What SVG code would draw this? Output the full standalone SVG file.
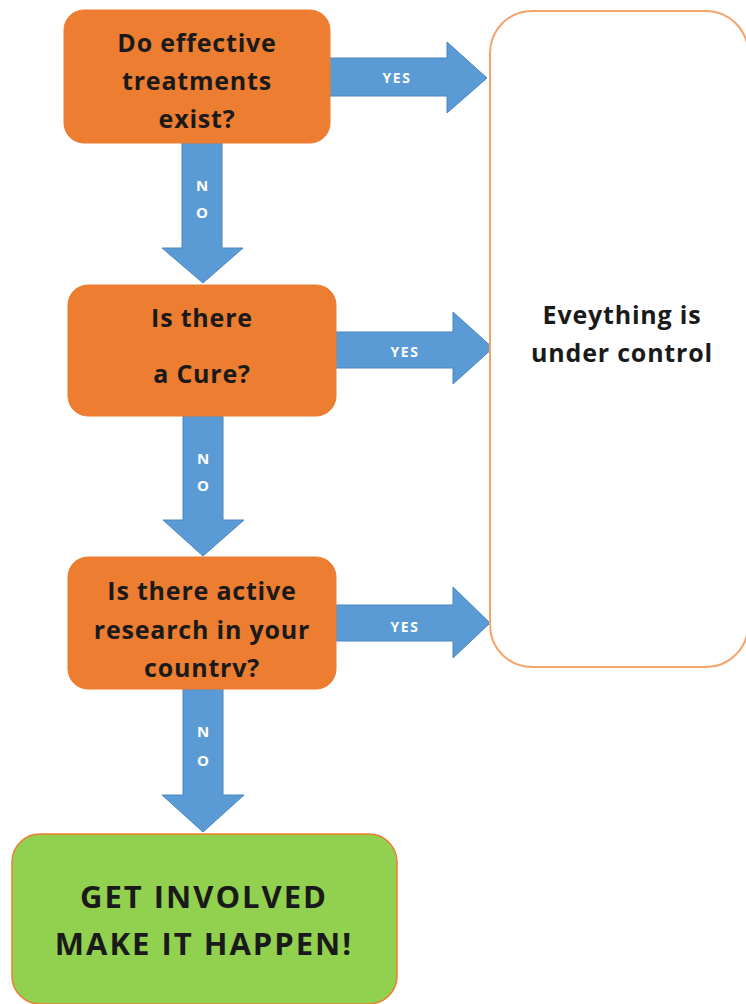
<svg xmlns="http://www.w3.org/2000/svg" width="746" height="1004" viewBox="0 0 746 1004">
<style>
.q{fill:#ED7D31;stroke:#ED7D31;stroke-width:1}
.t{font-family:"Open Sans","Liberation Sans",sans-serif;font-weight:bold;font-size:25px;letter-spacing:0.8px;fill:#1a1a1a;text-anchor:middle}
.g{font-size:31px;letter-spacing:2px}
.ar{fill:#5B9BD5;stroke:#4A86BF;stroke-width:1}
.lb{font-family:"Open Sans","Liberation Sans",sans-serif;font-weight:bold;font-size:14px;letter-spacing:1.5px;fill:#fff;text-anchor:middle}
.nl{font-size:15px;letter-spacing:0}
</style>
<rect width="746" height="1004" fill="#fff"/>
<g id="connectors">
<path class="ar" d="M326,58 H447 V42 L487,78 L447,113 V96 H326 Z"/>
<text class="lb" x="397" y="83">YES</text>
<path class="ar" d="M333,332 H453 V312 L493,348 L453,384 V368 H333 Z"/>
<text class="lb" x="405" y="357">YES</text>
<path class="ar" d="M333,605 H453 V587 L490,623 L453,658 V641 H333 Z"/>
<text class="lb" x="405" y="632">YES</text>
<path class="ar" d="M182,143 H222 V248 H243 L203,283 L162,248 H182 Z"/>
<text class="lb nl" x="202" y="191">N</text>
<text class="lb nl" x="202" y="218">O</text>
<path class="ar" d="M183,416 H223 V520 H244 L203,556 L163,520 H183 Z"/>
<text class="lb nl" x="203" y="464">N</text>
<text class="lb nl" x="203" y="491">O</text>
<path class="ar" d="M183,689 H223 V795 H244 L203,832 L162,795 H183 Z"/>
<text class="lb nl" x="203" y="737">N</text>
<text class="lb nl" x="203" y="766">O</text>
</g>
<g id="n1">
<rect class="q" x="64" y="10" width="266" height="133" rx="20"/>
<text class="t" x="197" y="52">Do effective</text>
<text class="t" x="197" y="90">treatments</text>
<text class="t" x="197" y="128">exist?</text>
</g>
<g id="n2">
<rect class="q" x="68" y="285" width="268" height="131" rx="20"/>
<text class="t" x="202" y="327">Is there</text>
<text class="t" x="202" y="383">a Cure?</text>
</g>
<g id="n3">
<rect class="q" x="68" y="557" width="268" height="132" rx="20"/>
<text class="t" x="202" y="600">Is there active</text>
<text class="t" x="202" y="639">research in your</text>
<text class="t" x="202" y="677">countrv?</text>
</g>
<g id="n4">
<rect x="490" y="11" width="258" height="656" rx="42" fill="#fff" stroke="#F4A46A" stroke-width="2"/>
<text class="t" x="622" y="324">Eveything is</text>
<text class="t" x="622" y="362">under control</text>
</g>
<g id="n5">
<rect x="12" y="834" width="385" height="170" rx="28" fill="#92D050" stroke="#ED7D31" stroke-width="1.5"/>
<text class="t g" x="204" y="908">GET INVOLVED</text>
<text class="t g" x="204" y="955">MAKE IT HAPPEN!</text>
</g>
</svg>
